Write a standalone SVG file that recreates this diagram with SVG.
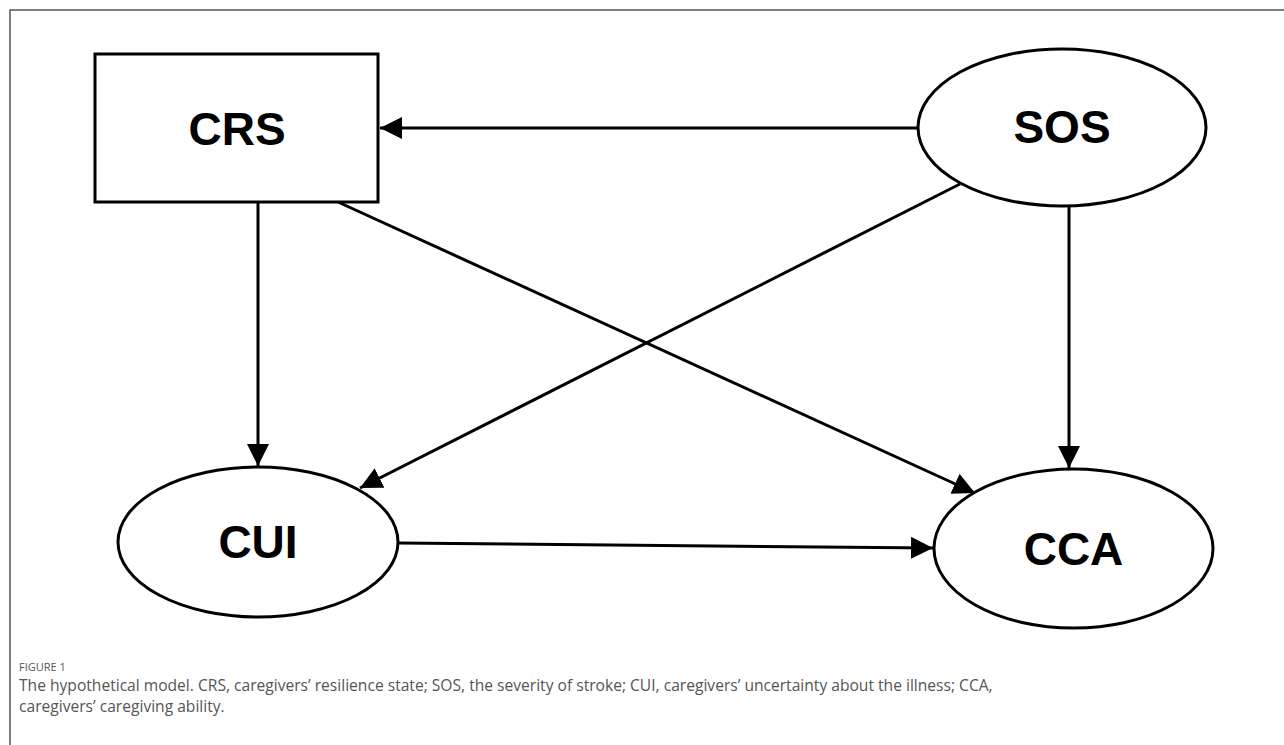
<svg xmlns="http://www.w3.org/2000/svg" width="1284" height="745" viewBox="0 0 1284 745">
<defs>
<marker id="ah" viewBox="0 0 22 22" refX="22" refY="11" markerWidth="22" markerHeight="22" markerUnits="userSpaceOnUse" orient="auto">
<path d="M0,0 L22,11 L0,22 Z" fill="#000"/>
</marker>
<style>
.node{fill:#fff;stroke:#000;stroke-width:3}
.lbl{font-family:"Liberation Sans",Arial,sans-serif;font-weight:bold;font-size:46px;fill:#000;text-anchor:middle}
.edge{stroke:#000;stroke-width:3;fill:none;marker-end:url(#ah)}
.cap{font-family:"Open Sans","Liberation Sans",sans-serif;fill:#555}
</style>
</defs>
<rect width="1284" height="745" fill="#fff"/>
<path d="M10,745 V10 H1284" fill="none" stroke="#555" stroke-width="1.5"/>
<g id="connectors">
<line class="edge" x1="918" y1="128" x2="380" y2="128"/>
<line class="edge" x1="258" y1="202" x2="258" y2="466"/>
<line class="edge" x1="338" y1="202" x2="975" y2="493"/>
<line class="edge" x1="960" y1="184" x2="360" y2="488"/>
<line class="edge" x1="1069" y1="206" x2="1069" y2="468"/>
<line class="edge" x1="398" y1="543" x2="933" y2="548"/>
</g>
<g id="CRS">
<rect class="node" x="95" y="54" width="283" height="148"/>
<text class="lbl" x="237" y="145">CRS</text>
</g>
<g id="SOS">
<ellipse class="node" cx="1062" cy="127.5" rx="144" ry="78.5"/>
<text class="lbl" x="1062" y="143">SOS</text>
</g>
<g id="CUI">
<ellipse class="node" cx="258" cy="542" rx="140" ry="75"/>
<text class="lbl" x="258" y="558">CUI</text>
</g>
<g id="CCA">
<ellipse class="node" cx="1073.5" cy="548.5" rx="139.5" ry="79.5"/>
<text class="lbl" x="1073.5" y="565">CCA</text>
</g>
<g id="caption">
<text class="cap" x="19" y="671" font-size="11">FIGURE 1</text>
<text class="cap" x="19" y="691" font-size="15.6">The hypothetical model. CRS, caregivers’ resilience state; SOS, the severity of stroke; CUI, caregivers’ uncertainty about the illness; CCA,</text>
<text class="cap" x="19" y="712" font-size="15.6">caregivers’ caregiving ability.</text>
</g>
</svg>
